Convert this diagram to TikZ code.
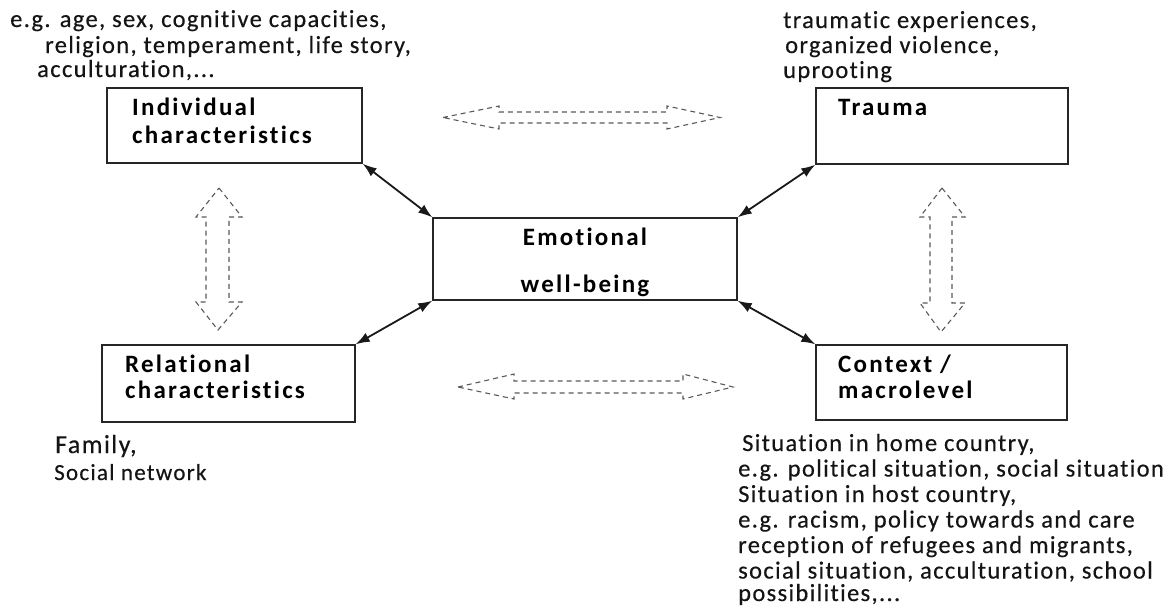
\documentclass[tikz,border=0pt]{standalone}
\usepackage{fontspec}
\setmainfont{Carlito}
\newfontfamily\regfont[LetterSpace=5.5,Ligatures=NoCommon,FakeBold=0.4]{Carlito}
\newfontfamily\labfont[LetterSpace=9,Ligatures=NoCommon]{Carlito}
\usetikzlibrary{arrows.meta}
\begin{document}
\begin{tikzpicture}[x=1pt,y=-1pt,
  box/.style={draw=black!85, line width=1.4pt, inner sep=0pt, minimum width=#1},
  txt/.style={anchor=base west, inner sep=0pt, text=black!92, font=\regfont\fontsize{24.5}{27}\selectfont},
  lab/.style={anchor=base west, inner sep=0pt, text=black, font=\labfont\bfseries\fontsize{25}{28}\selectfont},
  biarrow/.style={{Latex[length=14pt,width=10pt]}-{Latex[length=14pt,width=10pt]}, line width=1.8pt, black!90},
  blockarrow/.style={draw=black!65, dash pattern=on 5pt off 4pt, line width=1.1pt}]
\useasboundingbox (0,0) rectangle (1175,608);

% boxes
\node[box=255pt, minimum height=75pt] (ind) at (234.5,125.5) {};
\node[box=252pt, minimum height=76pt] (tra) at (942,126) {};
\node[box=304pt, minimum height=82pt] (emo) at (585,259) {};
\node[box=253pt, minimum height=77pt] (rel) at (228.5,383.5) {};
\node[box=251pt, minimum height=75pt] (con) at (941.5,382.5) {};

% box labels
\node[lab] (indA) at (132,115) {Individual};
\node[lab] (indB) at (132,143) {characteristics};
\node[lab] (traA) at (838,115) {Trauma};
\node[lab, anchor=base] (emoA) at (585,245) {Emotional};
\node[lab, anchor=base] (emoB) at (585,292) {well-being};
\node[lab] (relA) at (125,372) {Relational};
\node[lab] (relB) at (125,398) {characteristics};
\node[lab] (conA) at (838,372) {Context /};
\node[lab] (conB) at (838,398) {macrolevel};

% annotations
\node[txt] (n1) at (10,27) {e.g. age, sex, cognitive capacities,};
\node[txt] (n2) at (45,53) {religion, temperament, life story,};
\node[txt] (n3) at (37,77) {acculturation,...};
\node[txt] (m1) at (783,28) {traumatic experiences,};
\node[txt] (m2) at (785,53) {organized violence,};
\node[txt] (m3) at (783,78) {uprooting};
\node[txt, font=\regfont\fontsize{26}{29}\selectfont] (f1) at (55,453) {Family,};
\node[txt, font=\regfont\fontsize{23}{26}\selectfont] (f2) at (54,480) {Social network};
\node[txt] (c1) at (742,451) {Situation in home country,};
\node[txt] (c2) at (738,476.5) {e.g. political situation, social situation};
\node[txt] (c3) at (738,502) {Situation in host country,};
\node[txt] (c4) at (738,527.5) {e.g. racism, policy towards and care};
\node[txt] (c5) at (738,553) {reception of refugees and migrants,};
\node[txt] (c6) at (738,578.5) {social situation, acculturation, school};
\node[txt] (c7) at (738,601) {possibilities,...};

% solid connectors
\draw[biarrow] (ind.south east) -- (emo.north west);
\draw[biarrow] (tra.south west) -- (emo.north east);
\draw[biarrow] (rel.north east) -- (emo.south west);
\draw[biarrow] (con.north west) -- (emo.south east);

% dashed block arrows
\draw[blockarrow] (443,117.5) -- (499,106) -- (499,112) -- (667,112) -- (667,106) -- (720,117.5)
  -- (667,129) -- (667,123) -- (499,123) -- (499,129) -- cycle;
\draw[blockarrow] (458,387) -- (514,374) -- (514,381) -- (683,381) -- (683,374) -- (733,387)
  -- (683,399) -- (683,393) -- (514,393) -- (514,399) -- cycle;
\draw[blockarrow] (219,188) -- (242,217) -- (229,217) -- (229,302) -- (242,302) -- (218,330)
  -- (196,302) -- (206,302) -- (206,217) -- (196,217) -- cycle;
\draw[blockarrow] (942,188) -- (965,217) -- (952,217) -- (952,303) -- (965,303) -- (941,332)
  -- (920,303) -- (930,303) -- (930,217) -- (920,217) -- cycle;
\end{tikzpicture}
\end{document}
